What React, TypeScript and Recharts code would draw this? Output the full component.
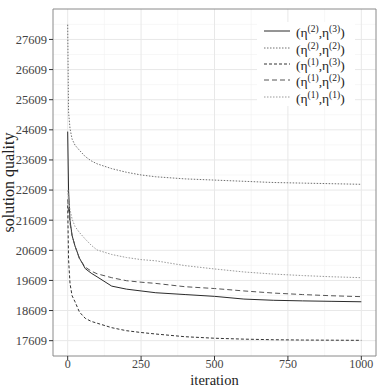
import React from 'react'
import { LineChart, Line, XAxis, YAxis, CartesianGrid, ReferenceArea } from 'recharts'

const iterations = [0, 3, 8, 15, 25, 40, 60, 80, 100, 150, 200, 250, 300, 400, 500, 600, 700, 800, 900, 1000]

const eta23 = [24550, 22600, 21600, 21100, 20750, 20350, 20000, 19850, 19730, 19420, 19320, 19260, 19200, 19140, 19080, 18990, 18950, 18930, 18915, 18900]
const eta22 = [28100, 25200, 24650, 24300, 24100, 23930, 23720, 23580, 23480, 23320, 23200, 23110, 23050, 22980, 22940, 22900, 22860, 22840, 22820, 22800]
const eta13 = [22100, 20300, 19500, 19100, 18900, 18560, 18350, 18250, 18190, 18040, 17940, 17880, 17830, 17740, 17690, 17660, 17640, 17630, 17625, 17620]
const eta12 = [22300, 21900, 21500, 21100, 20750, 20330, 20050, 19920, 19830, 19700, 19600, 19550, 19510, 19400, 19340, 19260, 19190, 19140, 19100, 19070]
const eta11 = [22600, 22300, 21950, 21650, 21400, 21200, 20980, 20780, 20620, 20470, 20370, 20300, 20260, 20100, 19990, 19890, 19820, 19770, 19730, 19700]

const xTicks = [0, 250, 500, 750, 1000]
const yTicks = [17609, 18609, 19609, 20609, 21609, 22609, 23609, 24609, 25609, 26609, 27609]
const xMinor = [125, 375, 625, 875]
const yMinor = [18109, 19109, 20109, 21109, 22109, 23109, 24109, 25109, 26109, 27109, 28109]

const series = [
  { key: 'eta23', a: '2', b: '3', color: '#2b2b2b', dash: undefined, values: eta23 },
  { key: 'eta22', a: '2', b: '2', color: '#707070', dash: '1.5 1.5', values: eta22 },
  { key: 'eta13', a: '1', b: '3', color: '#333333', dash: '3 2', values: eta13 },
  { key: 'eta12', a: '1', b: '2', color: '#555555', dash: '5 3', values: eta12 },
  { key: 'eta11', a: '1', b: '1', color: '#9a9a9a', dash: '1.5 1.5', values: eta11 },
]

const data = iterations.map((it, i) => {
  const row: Record<string, number> = { iteration: it }
  series.forEach(s => { row[s.key] = s.values[i] })
  return row
})

const font = '"Liberation Serif", "Times New Roman", serif'

export default function App() {
  return (
    <div style={{ position: 'absolute', left: 0, top: 0, width: 379, height: 387, background: '#fff', fontFamily: font }}>
      <LineChart width={379} height={387} data={data} margin={{ top: 9, right: 3, left: 0, bottom: 0 }} style={{ fontFamily: font }}>
        <CartesianGrid stroke="#f2f2f2" strokeWidth={0.6} verticalValues={xMinor} horizontalValues={yMinor} />
        <CartesianGrid stroke="#e8e8e8" strokeWidth={1} verticalValues={xTicks} horizontalValues={yTicks} />
        <XAxis
          dataKey="iteration"
          type="number"
          domain={[-50, 1050]}
          ticks={xTicks}
          height={31}
          axisLine={false}
          tickLine={{ stroke: '#333' }}
          tickSize={4}
          tick={{ fill: '#444', fontSize: 12, fontFamily: font, dy: -3 }}
          label={{ value: 'iteration', position: 'insideBottom', offset: 2.5, fill: '#222', fontSize: 14.5, fontFamily: font }}
        />
        <YAxis
          type="number"
          domain={[17100, 28620]}
          ticks={yTicks}
          width={53}
          axisLine={false}
          tickLine={{ stroke: '#333' }}
          tickSize={4}
          tick={{ fill: '#444', fontSize: 12.5, fontFamily: font }}
          label={{ value: 'solution quality', angle: -90, position: 'insideLeft', offset: 8, fill: '#222', fontSize: 16, fontFamily: font, style: { textAnchor: 'middle' } }}
        />
        <ReferenceArea x1={-50} x2={1050} y1={17100} y2={28620} fill="none" stroke="#8a8a8a" strokeWidth={1} ifOverflow="visible" />
        {series.map(s => (
          <Line
            key={s.key}
            dataKey={s.key}
            type="linear"
            stroke={s.color}
            strokeWidth={1}
            strokeDasharray={s.dash}
            dot={false}
            isAnimationActive={false}
          />
        ))}
      </LineChart>
      <div style={{ position: 'absolute', left: 257, top: 22, width: 98, padding: '1px 0', background: '#fff' }}>
        {series.map(s => (
          <div key={s.key} style={{ display: 'flex', alignItems: 'center', height: 16.4 }}>
            <svg width={30} height={10} style={{ marginLeft: 6, marginRight: 3 }}>
              <line x1={1} y1={5} x2={27} y2={5} stroke={s.color} strokeWidth={1} strokeDasharray={s.dash} />
            </svg>
            <span style={{ fontSize: 13.5, color: '#222', lineHeight: '16px', whiteSpace: 'nowrap' }}>
              (η<sup style={{ fontSize: 9.5, verticalAlign: 5 }}>({s.a})</sup>,η<sup style={{ fontSize: 9.5, verticalAlign: 5 }}>({s.b})</sup>)
            </span>
          </div>
        ))}
      </div>
    </div>
  )
}
